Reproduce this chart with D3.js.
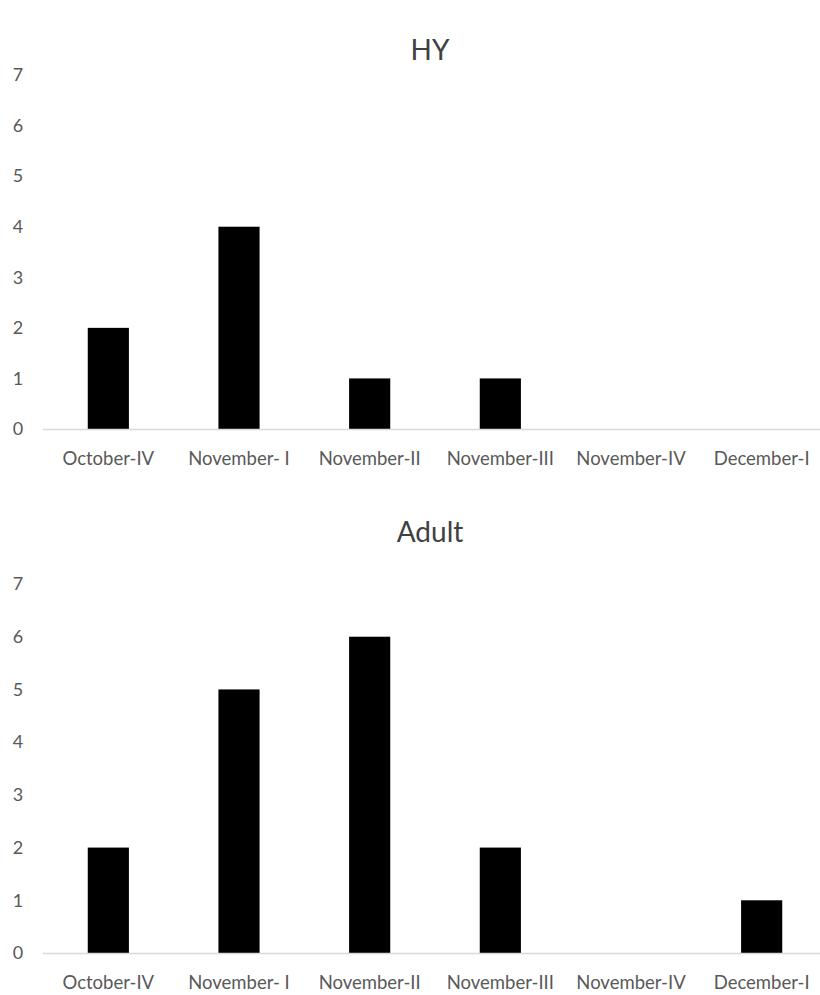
<!DOCTYPE html>
<html>
<head>
<meta charset="utf-8">
<script src="https://cdn.jsdelivr.net/npm/d3@7"></script>
<style>
  body { margin: 0; background: #fff; }
  svg { display: block; }
  text { font-family: Lato, "Liberation Sans", sans-serif; fill: #595959; }
</style>
</head>
<body>
<div id="chart"></div>
<script>
// data
var categories = ["October-IV", "November- I", "November-II", "November-III", "November-IV", "December-I"];
var hyValues = [2, 4, 1, 1, 0, 0];
var adultValues = [2, 5, 6, 2, 0, 1];
var yTicks = [0, 1, 2, 3, 4, 5, 6, 7];

var width = 820, height = 995;

var svg = d3.select('#chart')
  .append('svg')
  .attr('width', width)
  .attr('height', height);

function drawPanel(title, values, titleY, top, bottom) {
  var x = d3.scaleBand()
    .domain(categories)
    .range([43, 827])
    .padding(0);

  var y = d3.scaleLinear()
    .domain([0, 7])
    .range([bottom, top]);

  var g = svg.append('g');

  g.append('text')
    .attr('x', 430)
    .attr('y', titleY)
    .attr('text-anchor', 'middle')
    .style('font-size', '28px')
    .style('fill', '#404040')
    .text(title);

  // y tick labels only, no axis line
  g.selectAll('.ytick')
    .data(yTicks)
    .enter()
    .append('text')
    .attr('x', 18)
    .attr('y', function (d) { return y(d); })
    .attr('dy', '0.35em')
    .attr('text-anchor', 'middle')
    .style('font-size', '18px')
    .text(function (d) { return d; });

  var barW = x.bandwidth() * 0.315;
  g.selectAll('rect')
    .data(values)
    .enter()
    .append('rect')
    .attr('x', function (d, i) { return x(categories[i]) + x.bandwidth() / 2 - barW / 2; })
    .attr('y', function (d) { return y(d); })
    .attr('width', barW)
    .attr('height', function (d) { return y(0) - y(d); })
    .attr('fill', '#000');

  // baseline
  g.append('line')
    .attr('x1', x.range()[0])
    .attr('x2', x.range()[1])
    .attr('y1', y(0) + 0.5)
    .attr('y2', y(0) + 0.5)
    .attr('stroke', '#d9d9d9')
    .attr('stroke-width', 1.3);

  g.selectAll('.xlabel')
    .data(categories)
    .enter()
    .append('text')
    .attr('x', function (d) { return x(d) + x.bandwidth() / 2; })
    .attr('y', y(0) + 36)
    .attr('text-anchor', 'middle')
    .style('font-size', '18.5px')
    .text(function (d) { return d; });
}

drawPanel('HY', hyValues, 60, 75, 429);
drawPanel('Adult', adultValues, 542, 584, 953);
</script>
</body>
</html>
